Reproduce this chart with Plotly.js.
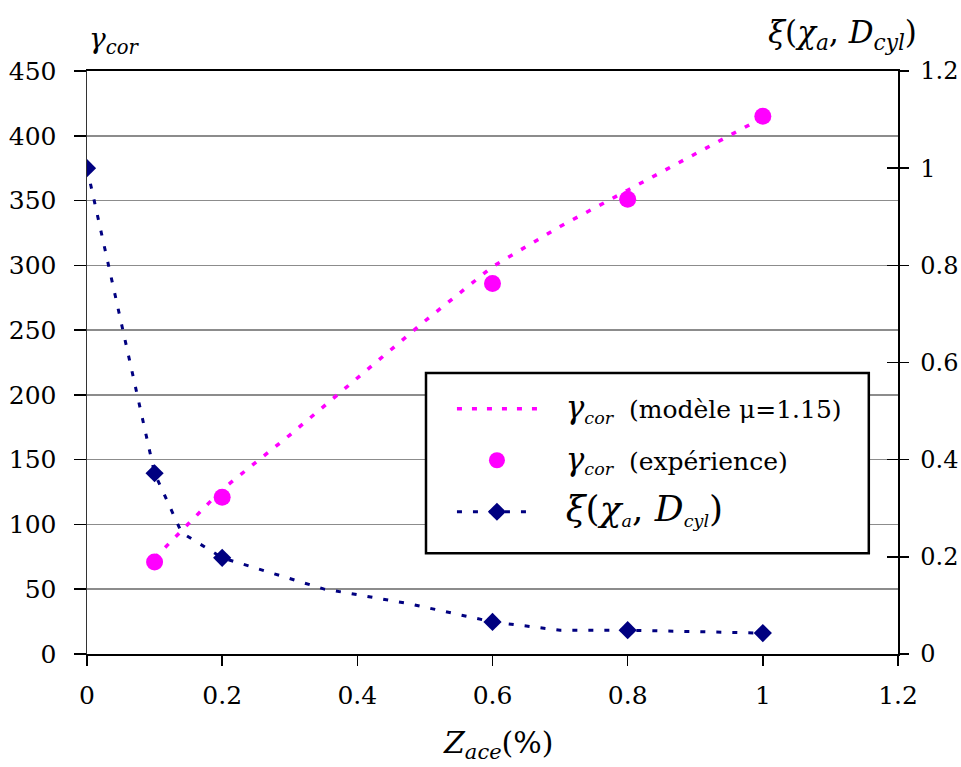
<!DOCTYPE html>
<html><head><meta charset="utf-8">
<script src="https://cdn.plot.ly/plotly-3.0.1.min.js"></script>
<style>body{margin:0;background:#fff}#chart{width:961px;height:767px}</style>
</head><body><div id="chart"></div>
<script>
// Model curve gamma_cor (mu = 1.15)
const modelX = [0.1, 0.2, 0.3, 0.4, 0.5, 0.6, 0.7, 0.8, 0.9, 1.0];
const modelGamma = [74, 127, 169, 213, 257, 299, 330, 358, 386, 414];
// Experimental gamma_cor
const expX = [0.1, 0.2, 0.6, 0.8, 1.0];
const expGamma = [71, 121, 286, 351, 415];
// xi(chi_a, D_cyl) curve (right axis)
const xiX = [0, 0.1, 0.14, 0.2, 0.35, 0.475, 0.6, 0.7, 0.8, 1.0];
const xiVal = [1.0, 0.372, 0.25, 0.198, 0.134, 0.104, 0.066, 0.049, 0.049, 0.043];
const xiMarkedIdx = [0, 1, 3, 6, 8, 9];
// labels
const PAD = "\u00A0\u00A0\u00A0";
const legendModel = PAD + "<i><span style='font-size:31px'>γ</span></i><sub><i>cor</i></sub>\u00A0\u00A0(modèle μ=1.15)";
const legendExp = PAD + "<i><span style='font-size:31px'>γ</span></i><sub><i>cor</i></sub>\u00A0\u00A0(expérience)";
const legendXi = PAD + "<span style='font-size:36px'><i>ξ</i>(<i>χ</i></span><sub><i>a</i></sub><span style='font-size:36px'>, <i>D</i></span><sub><i>cyl</i></sub><span style='font-size:36px'>)</span>";
const titleLeft = "<i>γ</i><sub><i>cor</i></sub>";
const titleRight = "<i>ξ</i>(<i>χ</i><sub><i>a</i></sub>, <i>D</i><sub><i>cyl</i></sub>)";
const titleX = "<i>Z</i><sub><i>ace</i></sub>(%)";

const FONT = "DejaVu Serif";
const PINK = "#FF00FF", NAVY = "#000080";

const traces = [
  {x: modelX, y: modelGamma, mode: "lines", name: legendModel, legendgroup: "a",
   line: {color: PINK, width: 3.5, dash: "5px,10px"}, yaxis: "y"},
  {x: expX, y: expGamma, mode: "markers", name: legendExp, legendgroup: "b",
   marker: {color: PINK, size: 17, symbol: "circle"}, yaxis: "y"},
  {x: xiX, y: xiVal, mode: "lines+markers", name: legendXi, legendgroup: "c",
   line: {color: NAVY, width: 3, dash: "5px,11px"},
   marker: {color: NAVY, size: 14, symbol: "diamond"},
   selectedpoints: xiMarkedIdx, unselected: {marker: {opacity: 0}},
   yaxis: "y2"}
];

const tickFont = {family: FONT, size: 25, color: "#000"};
const rightTickFont = {family: FONT, size: 24, color: "#000"};

const layout = {
  width: 961, height: 767,
  margin: {l: 87, r: 63, t: 71, b: 113},
  paper_bgcolor: "#fff", plot_bgcolor: "#fff",
  font: {family: FONT, color: "#000", size: 25},
  showlegend: true,
  dragmode: false,
  xaxis: {range: [0, 1.2], dtick: 0.2, tick0: 0, ticks: "outside", ticklen: 10, tickcolor: "#000", tickwidth: 1.5,
          showline: true, linecolor: "#000", linewidth: 2, mirror: true, showgrid: false, zeroline: false,
          tickfont: tickFont, ticklabelstandoff: 8, fixedrange: true},
  yaxis: {range: [0, 450], dtick: 50, tick0: 0, ticks: "outside", ticklen: 12, tickcolor: "#000", tickwidth: 1.5,
          showline: true, linecolor: "#333", linewidth: 1.5, showgrid: true, gridcolor: "#8c8c8c", gridwidth: 1.5,
          zeroline: false, tickfont: tickFont, ticklabelstandoff: 12, fixedrange: true},
  yaxis2: {range: [0, 1.2], dtick: 0.2, tick0: 0, overlaying: "y", side: "right", anchor: "x",
           ticks: "outside", ticklen: 9, tickcolor: "#000", tickwidth: 1.5,
           showline: true, linecolor: "#000", linewidth: 1.5, showgrid: false, zeroline: false,
           tickfont: rightTickFont, ticklabelstandoff: 7, fixedrange: true},
  yaxis3: {range: [0, 1.2], dtick: 0.2, tick0: 0, overlaying: "y", side: "right", anchor: "x",
           ticks: "inside", ticklen: 11, tickcolor: "#000", tickwidth: 1.5,
           showline: false, showgrid: false, zeroline: false, showticklabels: false, fixedrange: true},
  legend: {x: 0.450, y: 0.4597, xanchor: "left", yanchor: "top", bgcolor: "rgba(0,0,0,0)",
           borderwidth: 0, itemwidth: 80, tracegroupgap: 16, traceorder: "grouped",
           font: {family: FONT, size: 25, color: "#000"}, itemclick: false, itemdoubleclick: false},
  shapes: [
    // legend frame
    {type: "rect", xref: "paper", yref: "paper", x0: 0.418, x1: 0.964, y0: 0.173, y1: 0.482,
     layer: "above", fillcolor: "#fff", line: {color: "#000", width: 2.5}}
  ],
  annotations: [
    {text: titleLeft, xref: "paper", yref: "paper", x: 0, y: 1.053, xanchor: "left", yanchor: "middle",
     showarrow: false, font: {family: FONT, size: 28, color: "#000"}},
    {text: titleRight, xref: "paper", yref: "paper", x: 0.931, y: 1.062, xanchor: "center", yanchor: "middle",
     showarrow: false, font: {family: FONT, size: 31, color: "#000"}},
    {text: titleX, xref: "paper", yref: "paper", x: 0.508, y: -0.155, xanchor: "center", yanchor: "middle",
     showarrow: false, font: {family: FONT, size: 30, color: "#000"}}
  ]
};

// empty trace so the crossing tick marks of the right axis (yaxis3) are drawn
traces.push({x: [], y: [], yaxis: "y3", showlegend: false, hoverinfo: "skip"});

Plotly.newPlot("chart", traces, layout, {displayModeBar: false, staticPlot: true});
</script>
</body></html>
